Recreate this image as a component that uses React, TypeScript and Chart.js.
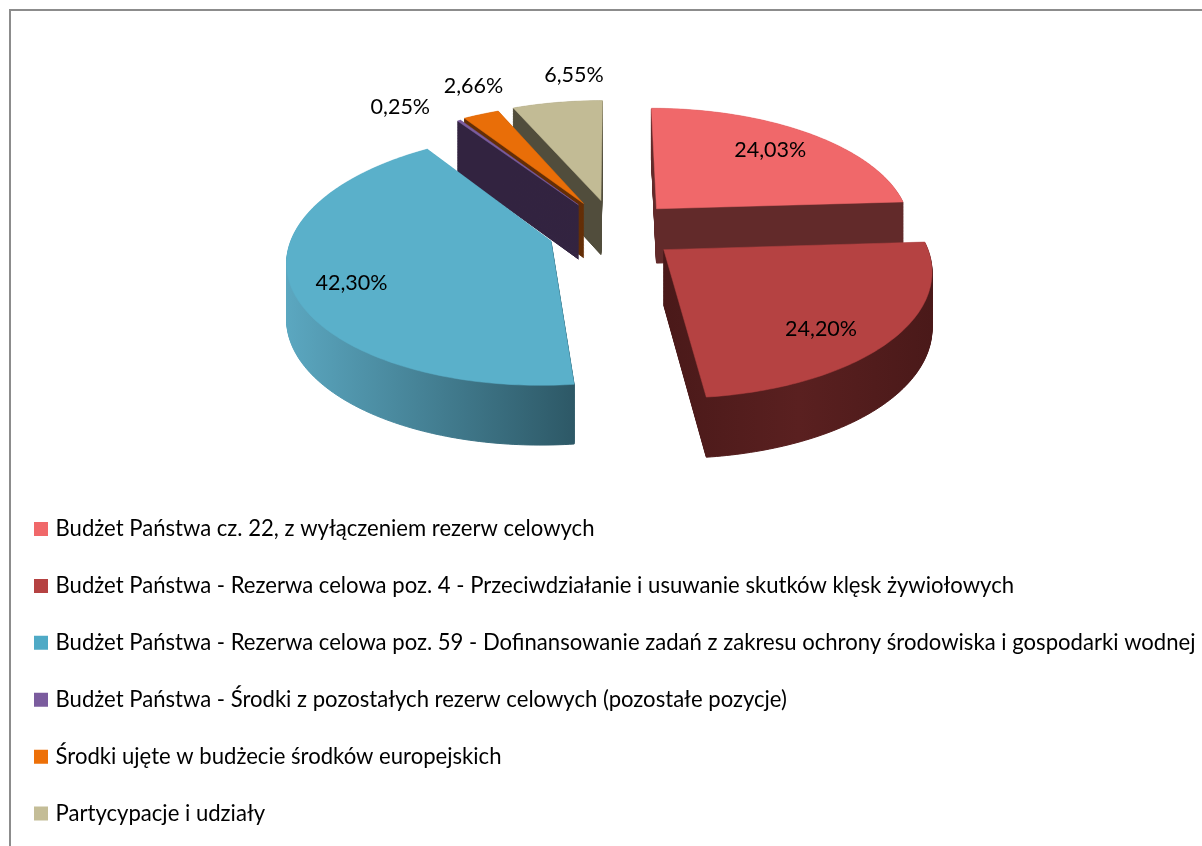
import React, { useEffect, useRef } from "react";
import { Chart, registerables } from "chart.js";

Chart.register(...registerables);

const categories = [
  "Budżet Państwa cz. 22, z wyłączeniem rezerw celowych",
  "Budżet Państwa - Rezerwa celowa poz. 4 - Przeciwdziałanie i usuwanie skutków klęsk żywiołowych",
  "Budżet Państwa - Rezerwa celowa poz. 59 - Dofinansowanie zadań z zakresu ochrony środowiska i gospodarki wodnej",
  "Budżet Państwa - Środki z pozostałych rezerw celowych (pozostałe pozycje)",
  "Środki ujęte w budżecie środków europejskich",
  "Partycypacje i udziały",
];
const values = [24.03, 24.2, 42.3, 0.25, 2.66, 6.55];
const valueLabels = ["24,03%", "24,20%", "42,30%", "0,25%", "2,66%", "6,55%"];

const topColors = ["#F0686A", "#B54242", "#5AB0CA", "#7B5C9E", "#E96E08", "#C2BB95"];
const legendColors = ["#F0686A", "#B54242", "#4FAAC6", "#7B5C9E", "#ED7008", "#C4BD97"];
const sideStops: string[][] = [
  ["#622A2A", "#622A2A"],
  ["#4A1919", "#5A2020", "#4A1919"],
  ["#5BA7C0", "#2D5866"],
  ["#322340", "#322340"],
  ["#642E06", "#642E06"],
  ["#514D3C", "#514D3C"],
];

// 3D look: exploded distance, slice radius, label radius and nudge for each slice
const explode = [0.24, 0.24, 0.25, 0.25, 0.25, 0.25];
const radiusScale = [0.965, 0.975, 0.97, 0.96, 0.97, 0.98];
const labelRadius = [0.68, 0.68, 0.85, 1.15, 1.25, 1.25];
const labelNudge = [[4, -4], [3, 18], [27, 3], [-38, 1], [18, -6], [27, -4]];
const drawOrder = [0, 5, 4, 3, 2, 1];
const view = { x0: 614, y0: 230, a: 124.5, b: 265, p: 0.145, depth: 55 };

function project(u: number, v: number, f = 0) {
  const w = 1 / (1 - view.p * v);
  return {
    x: view.x0 + view.b * u * w,
    y: view.y0 + view.a * v * w + f * view.depth * Math.sqrt(w),
  };
}

function outline(arc: any, e: number, r: number) {
  const start = arc.startAngle + Math.PI / 2;
  const end = arc.endAngle + Math.PI / 2;
  const mid = (start + end) / 2;
  const ax = Math.sin(mid) * e;
  const ay = -Math.cos(mid) * e;
  const pts: number[][] = [[ax, ay]];
  const steps = Math.max(2, Math.ceil((end - start) * 60));
  for (let i = 0; i <= steps; i++) {
    const t = start + ((end - start) * i) / steps;
    pts.push([ax + r * Math.sin(t), ay - r * Math.cos(t)]);
  }
  return pts;
}

function tracePoly(ctx: CanvasRenderingContext2D, pts: number[][], f: number) {
  ctx.beginPath();
  pts.forEach(([u, v], i) => {
    const p = project(u, v, f);
    if (i === 0) ctx.moveTo(p.x, p.y);
    else ctx.lineTo(p.x, p.y);
  });
  ctx.closePath();
}

const pie3d = {
  id: "pie3d",
  afterLayout(chart: any) {
    const legend = chart.legend;
    legend.left = 2.7;
    legend.right = 1202;
    legend.top = 483.2;
    legend.bottom = 900;
  },
  beforeDatasetsDraw(chart: any) {
    const ctx: CanvasRenderingContext2D = chart.ctx;
    const arcs = chart.getDatasetMeta(0).data;
    ctx.save();
    for (const i of drawOrder) {
      const pts = outline(arcs[i], explode[i], radiusScale[i]);
      const xs = pts.map(([u, v]) => project(u, v).x);
      const g = ctx.createLinearGradient(Math.min(...xs), 0, Math.max(...xs) + 1, 0);
      sideStops[i].forEach((c, k) => g.addColorStop(k / (sideStops[i].length - 1), c));
      ctx.fillStyle = g;
      ctx.strokeStyle = g;
      ctx.lineWidth = 1;
      ctx.lineJoin = "round";
      for (let s = 70; s > 0; s--) {
        tracePoly(ctx, pts, s / 70);
        ctx.fill();
        ctx.stroke();
      }
      ctx.fillStyle = topColors[i];
      ctx.strokeStyle = topColors[i];
      ctx.lineWidth = 0.5;
      tracePoly(ctx, pts, 0);
      ctx.fill();
      ctx.stroke();
    }
    ctx.restore();
    return false;
  },
  afterDraw(chart: any) {
    const ctx: CanvasRenderingContext2D = chart.ctx;
    const arcs = chart.getDatasetMeta(0).data;
    ctx.save();
    ctx.fillStyle = "#000";
    ctx.font = "21.5px Lato";
    ctx.textAlign = "center";
    ctx.textBaseline = "middle";
    arcs.forEach((arc: any, i: number) => {
      const mid = (arc.startAngle + arc.endAngle) / 2 + Math.PI / 2;
      const u = Math.sin(mid) * (explode[i] + labelRadius[i]);
      const v = -Math.cos(mid) * (explode[i] + labelRadius[i]);
      const p = project(u, v);
      ctx.fillText(valueLabels[i], p.x + labelNudge[i][0], p.y + labelNudge[i][1]);
    });
    ctx.restore();
  },
};

export default function App() {
  const ref = useRef<HTMLCanvasElement>(null);
  useEffect(() => {
    document.body.style.margin = "0";
    document.body.style.overflow = "hidden";
    const chart = new Chart(ref.current!, {
      type: "pie",
      data: {
        labels: categories,
        datasets: [{ data: values, backgroundColor: topColors, borderWidth: 0 }],
      },
      options: {
        animation: false,
        responsive: false,
        devicePixelRatio: 1,
        plugins: {
          tooltip: { enabled: false },
          legend: {
            position: "chartArea",
            align: "start",
            labels: {
              color: "#111",
              font: { family: "Lato", size: 22.1 },
              boxWidth: 7,
              boxHeight: 7,
              padding: 34.8,
              generateLabels: () =>
                categories.map((text, i) => ({
                  text,
                  fillStyle: legendColors[i],
                  strokeStyle: legendColors[i],
                  lineWidth: 7,
                  hidden: false,
                  index: i,
                })),
            },
          },
        },
      } as any,
      plugins: [pie3d as any],
    });
    return () => chart.destroy();
  }, []);
  return (
    <div style={{ position: "relative", width: 1202, height: 846, overflow: "hidden", background: "#fff" }}>
      <div
        style={{
          position: "absolute",
          left: 9,
          top: 9,
          right: -4,
          bottom: -4,
          borderLeft: "2px solid #8C8C8C",
          borderTop: "2px solid #8C8C8C",
        }}
      />
      <canvas ref={ref} width={1202} height={846} style={{ position: "absolute", left: 0, top: 0 }} />
    </div>
  );
}
